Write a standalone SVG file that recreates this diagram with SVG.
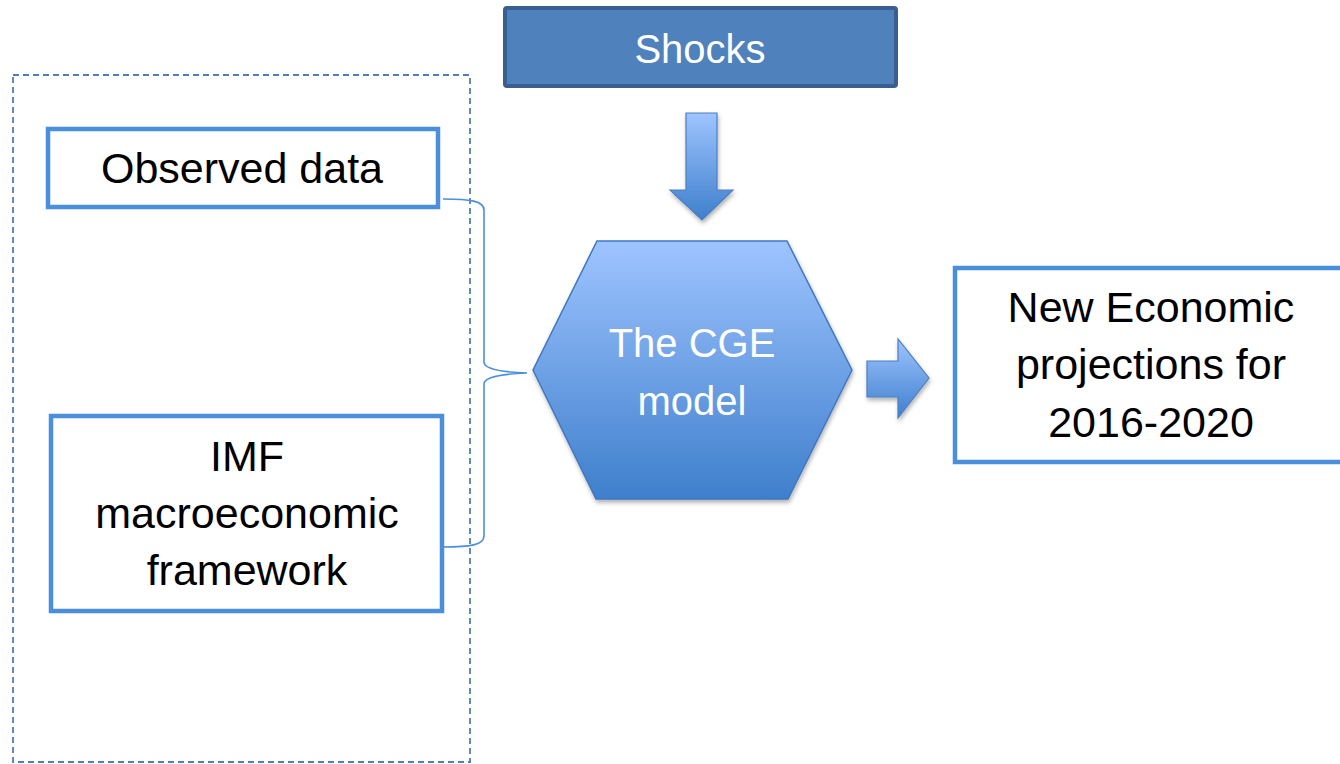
<svg xmlns="http://www.w3.org/2000/svg" width="1340" height="764" viewBox="0 0 1340 764">
<defs>
<style>
.box{fill:#ffffff;stroke:#4a8fdc;stroke-width:4.5}
.t{font-family:"Liberation Sans",Arial,sans-serif;font-size:43px;fill:#000;text-anchor:middle}
.w{font-family:"Liberation Sans",Arial,sans-serif;font-size:40px;fill:#ffffff;text-anchor:middle}
.conn{fill:none;stroke:#4a8fdc;stroke-width:1.6}
.blk{stroke:#4a7fc4;stroke-width:1.2}
</style>
<linearGradient id="g" x1="0" y1="0" x2="0" y2="1">
<stop offset="0" stop-color="#9ec4ff"/>
<stop offset="1" stop-color="#3f7fcc"/>
</linearGradient>
<filter id="sh" x="-10%" y="-10%" width="130%" height="130%">
<feDropShadow dx="1" dy="3" stdDeviation="2" flood-color="#000" flood-opacity="0.3"/>
</filter>
</defs>
<g id="frame">
<rect x="13" y="75" width="457" height="687" fill="none" stroke="#4f7fba" stroke-width="1.8" stroke-dasharray="6 4"/>
</g>
<g id="shocks">
<rect x="505" y="8" width="391" height="78" fill="#4f81bd" stroke="#3a5f8e" stroke-width="4" rx="2"/>
<text class="w" x="700" y="63">Shocks</text>
</g>
<g id="observed">
<rect class="box" x="48" y="129" width="390" height="78"/>
<text class="t" x="242" y="183">Observed data</text>
</g>
<g id="imf">
<rect class="box" x="51" y="416" width="391" height="195"/>
<text class="t" x="247" y="471">IMF</text>
<text class="t" x="247" y="528" font-size="44">macroeconomic</text>
<text class="t" x="247" y="585">framework</text>
</g>
<g id="cge">
<polygon points="597,241 787,241 852,370 788,499 596,499 533,370" fill="url(#g)" stroke="#3f78c0" stroke-width="1.5" filter="url(#sh)"/>
<text class="w" x="692" y="357">The CGE</text>
<text class="w" x="692" y="415">model</text>
</g>
<g id="output">
<rect class="box" x="955" y="268" width="400" height="194"/>
<text class="t" x="1151" y="322">New Economic</text>
<text class="t" x="1151" y="379">projections for</text>
<text class="t" x="1151" y="437">2016-2020</text>
</g>
<g id="connectors">
<path class="conn" d="M443,199 C470,199 484,201 484,210 L484,362 C484,369 500,372 527,373 C500,374 484,377 484,384 L484,536 C484,545 470,547 443,547"/>
<polygon class="blk" points="686,113 717,113 717,190 733,190 702,220 670,190 686,190" fill="url(#g)" filter="url(#sh)"/>
<polygon class="blk" points="867,361 898,361 898,339 929,378 898,418 898,397 867,397" fill="url(#g)" filter="url(#sh)"/>
</g>
</svg>
